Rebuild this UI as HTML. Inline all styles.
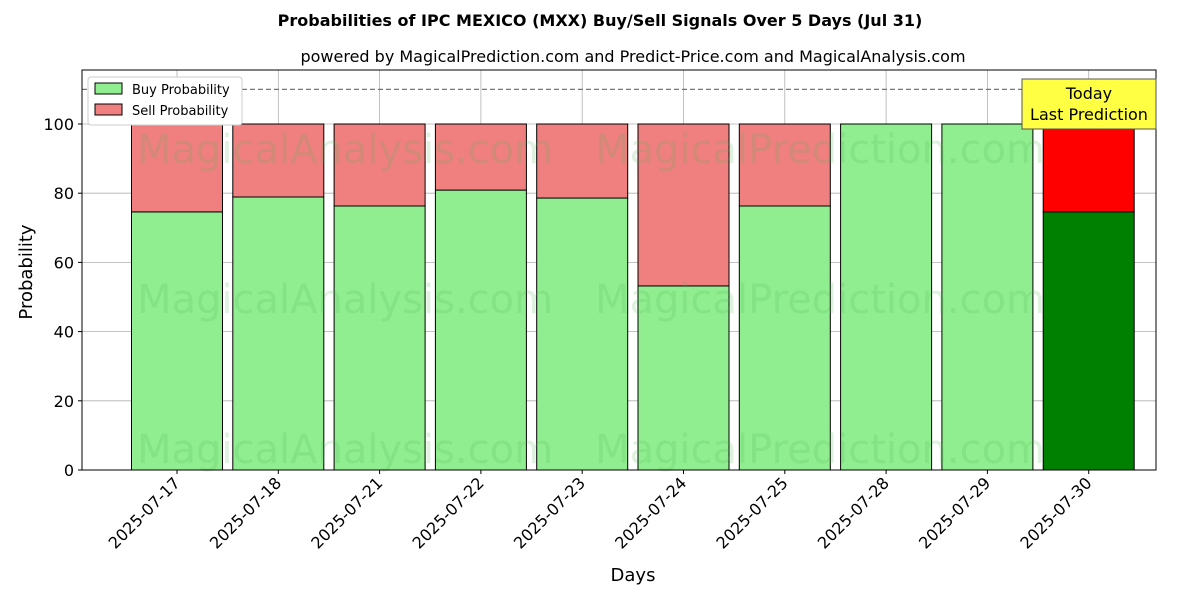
<!DOCTYPE html>
<html><head><meta charset="utf-8"><style>
body{margin:0;background:#fff;}
svg text{font-family:"DejaVu Sans","Liberation Sans",sans-serif;}
</style></head><body>
<svg id="chart" width="1200" height="600" xmlns="http://www.w3.org/2000/svg">
<rect width="1200" height="600" fill="#fff"/>
<text x="600" y="26" text-anchor="middle" font-size="16" font-weight="bold">Probabilities of IPC MEXICO (MXX) Buy/Sell Signals Over 5 Days (Jul 31)</text>
<text x="633" y="62" text-anchor="middle" font-size="16">powered by MagicalPrediction.com and Predict-Price.com and MagicalAnalysis.com</text>
<g id="grid"></g>
<g id="bars"></g>
<g id="wm" font-size="40" fill="rgba(80,180,80,0.18)">
<text x="345" y="163" text-anchor="middle">MagicalAnalysis.com</text>
<text x="820" y="163" text-anchor="middle">MagicalPrediction.com</text>
<text x="345" y="313" text-anchor="middle">MagicalAnalysis.com</text>
<text x="820" y="313" text-anchor="middle">MagicalPrediction.com</text>
<text x="345" y="463" text-anchor="middle">MagicalAnalysis.com</text>
<text x="820" y="463" text-anchor="middle">MagicalPrediction.com</text>
</g>
<g id="axes"></g>
<text transform="translate(32,272) rotate(-90)" text-anchor="middle" font-size="18">Probability</text>
<text x="633" y="581" text-anchor="middle" font-size="18">Days</text>
<g>
<rect x="88" y="77" width="154" height="48" fill="#fff" stroke="#ccc" rx="3"/>
<rect x="95" y="83" width="27" height="11" fill="#90ee90" stroke="#000"/>
<text x="132" y="94" font-size="13">Buy Probability</text>
<rect x="95" y="104" width="27" height="11" fill="#f08080" stroke="#000"/>
<text x="132" y="115" font-size="13">Sell Probability</text>
</g>
<g>
<rect x="1022" y="79" width="134" height="50" fill="#ffff44" stroke="#555"/>
<text x="1089" y="99" text-anchor="middle" font-size="16">Today</text>
<text x="1089" y="120" text-anchor="middle" font-size="16">Last Prediction</text>
</g>
</svg>
<script>
const categories=["2025-07-17","2025-07-18","2025-07-21","2025-07-22","2025-07-23","2025-07-24","2025-07-25","2025-07-28","2025-07-29","2025-07-30"];
const buyValues=[74.6,78.9,76.3,80.9,78.6,53.2,76.3,100,100,74.6];
const yTicks=[0,20,40,60,80,100];
const NS="http://www.w3.org/2000/svg";
const L=82,R=1156,T=70,B=470;
const x=i=>177+101.3*i;
const y=v=>B-v*3.46;
const bw=91;
function mk(tag,attrs,parent){const e=document.createElementNS(NS,tag);for(const k in attrs)e.setAttribute(k,attrs[k]);parent.appendChild(e);return e;}
const grid=document.getElementById('grid'),bars=document.getElementById('bars'),axes=document.getElementById('axes');
yTicks.forEach(t=>{
 const g=mk('line',{x1:L,x2:R,y1:y(t),y2:y(t),stroke:'#b0b0b0','stroke-width':0.8},grid);
 
 
 mk('line',{x1:L-4,x2:L,y1:y(t),y2:y(t),stroke:'#000'},axes);
 const tx=mk('text',{x:L-8,y:y(t)+6,'text-anchor':'end','font-size':16},axes);
 tx.textContent=t;
 
 
});
categories.forEach((c,i)=>{
 const g=mk('line',{x1:x(i),x2:x(i),y1:T,y2:B,stroke:'#b0b0b0','stroke-width':0.8},grid);
 
 
 const last=i===categories.length-1;
 const b=buyValues[i];
 const rb=mk('rect',{x:x(i)-bw/2,y:y(b),width:bw,height:y(0)-y(b),fill:last?'#008000':'#90ee90',stroke:'#000','stroke-width':1},bars);
 
 
 if(b<100){
  const rs=mk('rect',{x:x(i)-bw/2,y:y(100),width:bw,height:y(b)-y(100),fill:last?'#ff0000':'#f08080',stroke:'#000','stroke-width':1},bars);
  
  
 }
 mk('line',{x1:x(i),x2:x(i),y1:B,y2:B+4,stroke:'#000'},axes);
 const tx=mk('text',{x:x(i)+4,y:B+14,'text-anchor':'end','font-size':16,transform:`rotate(-45 ${x(i)+4} ${B+14})`},axes);
 tx.textContent=c;
 
 
});
const dl=mk('line',{x1:L,x2:R,y1:y(110),y2:y(110),stroke:'#777','stroke-width':1.2,'stroke-dasharray':'5,3'},axes);


const fr=mk('rect',{x:L,y:T,width:R-L,height:B-T,fill:'none',stroke:'#000','stroke-width':1},axes);


</script>
</body></html>
